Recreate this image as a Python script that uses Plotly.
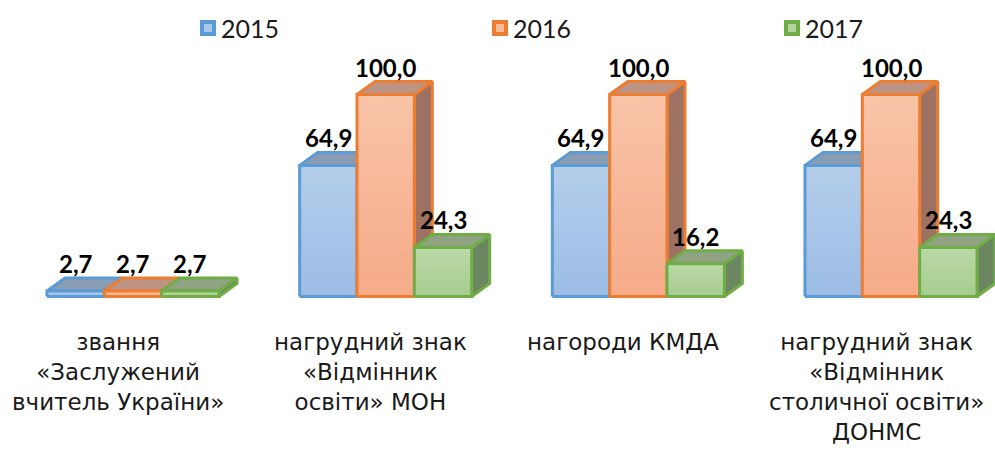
import plotly.graph_objects as go

# ---- data ----
categories = [
    "звання<br>«Заслужений<br>вчитель України»",
    "нагрудний знак<br>«Відмінник<br>освіти» МОН",
    "нагороди КМДА",
    "нагрудний знак<br>«Відмінник<br>столичної освіти»<br>ДОНМС",
]
series_names = ["2015", "2016", "2017"]
values_2015 = [2.7, 64.9, 64.9, 64.9]
values_2016 = [2.7, 100.0, 100.0, 100.0]
values_2017 = [2.7, 24.3, 16.2, 24.3]
all_values = [values_2015, values_2016, values_2017]

# ---- styles ----
styles = [
    dict(border="#5b9bd5", front_top="#b4cdea", front_bottom="#9cbce6", top="#8a9cb4", side="#6f8099", legend_inner="#a9c6ea"),
    dict(border="#ed7d31", front_top="#f9c4a8", front_bottom="#f6aa88", top="#bd9383", side="#9e7262", legend_inner="#f7bb9a"),
    dict(border="#70ad47", front_top="#bad9a7", front_bottom="#a6cc8e", top="#8fa383", side="#6b8660", legend_inner="#b3d49e"),
]

W, H = 995, 453
X_PX0, X_STEP = 133.0, 252.67
BASE_PX, PPU = 296.5, 2.02
x_range = [-X_PX0 / X_STEP, (W - X_PX0) / X_STEP]
y_range = [-(H - BASE_PX) / PPU, BASE_PX / PPU]

GROUP_W = 0.681
BW = GROUP_W / 3
HW = BW / 2
DX = 18 / X_STEP
DY = 13 / PPU
LW = 3

fig = go.Figure()
annotations = []

for i, cat in enumerate(categories):
    for j, vals in enumerate(all_values):
        v = vals[i]
        st = styles[j]
        xc = i + (j - 1) * BW
        x0, x1 = xc - HW, xc + HW
        # side face
        fig.add_trace(go.Scatter(
            x=[x1, x1 + DX, x1 + DX, x1, x1], y=[0, DY, v + DY, v, 0],
            mode="lines", fill="toself", fillcolor=st["side"],
            line=dict(color=st["border"], width=LW), hoverinfo="skip", showlegend=False))
        # top face
        fig.add_trace(go.Scatter(
            x=[x0, x1, x1 + DX, x0 + DX, x0], y=[v, v, v + DY, v + DY, v],
            mode="lines", fill="toself", fillcolor=st["top"],
            line=dict(color=st["border"], width=LW), hoverinfo="skip", showlegend=False))
        # front face
        fig.add_trace(go.Scatter(
            x=[x0, x1, x1, x0, x0], y=[0, 0, v, v, 0],
            mode="lines", fill="toself", fillcolor=st["front_bottom"],
            fillgradient=dict(type="vertical", start=0, stop=v,
                              colorscale=[[0, st["front_bottom"]], [1, st["front_top"]]]),
            line=dict(color=st["border"], width=LW), name=series_names[j],
            hovertemplate=f"{series_names[j]}: {v}<extra></extra>", showlegend=False))
        annotations.append(dict(
            x=xc, y=v, xref="x", yref="y", text=f"{v:.1f}".replace(".", ","),
            showarrow=False, yanchor="bottom", xanchor="center", yshift=11,
            font=dict(family="Lato", size=24, color="#000000", weight="bold")))
    annotations.append(dict(
        x=i, y=1 - 327 / H, xref="x", yref="paper", text=cat, showarrow=False,
        xanchor="center", yanchor="top", xshift=-15, align="center",
        font=dict(family="DejaVu Sans", size=23, color="#1a1a1a")))

# legend (manual)
legend_x = [208, 500, 792]
legend_y = 28
shapes = []
for j, name in enumerate(series_names):
    cx = legend_x[j]
    shapes.append(dict(type="rect", xref="paper", yref="paper",
                       x0=(cx - 8) / W, x1=(cx + 8) / W,
                       y0=1 - (legend_y + 8) / H, y1=1 - (legend_y - 8) / H,
                       fillcolor=styles[j]["border"], line=dict(width=0)))
    shapes.append(dict(type="rect", xref="paper", yref="paper",
                       x0=(cx - 4) / W, x1=(cx + 4) / W,
                       y0=1 - (legend_y + 4) / H, y1=1 - (legend_y - 4) / H,
                       fillcolor=styles[j]["legend_inner"], line=dict(width=0)))
    annotations.append(dict(
        x=(cx + 11) / W, y=1 - legend_y / H, xref="paper", yref="paper", text=name,
        showarrow=False, xanchor="left", yanchor="middle",
        font=dict(family="Lato", size=25, color="#1a1a1a")))

fig.update_layout(
    width=W, height=H, margin=dict(l=0, r=0, t=0, b=0),
    paper_bgcolor="white", plot_bgcolor="white",
    xaxis=dict(range=x_range, visible=False, fixedrange=True),
    yaxis=dict(range=y_range, visible=False, fixedrange=True),
    annotations=annotations, shapes=shapes, showlegend=False,
)
fig.write_html("out.html", config={"displayModeBar": False},
               post_script="document.body.style.margin='0px';")
